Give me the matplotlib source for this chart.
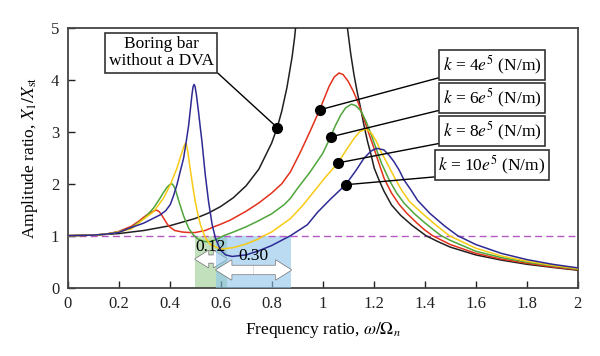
import matplotlib
matplotlib.use("Agg")
from matplotlib import pyplot as plt

plt.rcParams['font.family'] = ['Liberation Serif', 'DejaVu Serif']
plt.rcParams['mathtext.fontset'] = 'stix'

# boring bar without DVA (two branches around resonance)
black_lo_x = [0, 0.1, 0.2, 0.3, 0.4, 0.5, 0.55, 0.6, 0.65, 0.7, 0.75, 0.8, 0.822, 0.84, 0.86, 0.88, 0.89, 0.90]
black_lo_y = [1.0, 1.01, 1.04, 1.10, 1.19, 1.33, 1.43, 1.56, 1.73, 1.96, 2.28, 2.78, 3.08, 3.40, 3.85, 4.43, 4.81, 5.3]
black_hi_x = [1.09, 1.097, 1.11, 1.123, 1.136, 1.149, 1.162, 1.176, 1.19, 1.202, 1.221, 1.24, 1.27, 1.306, 1.35, 1.405,
              1.45, 1.5, 1.6, 1.7, 1.8, 1.9, 2.0]
black_hi_y = [5.4, 5.0, 4.5, 4.09, 3.75, 3.45, 3.12, 2.81, 2.55, 2.30, 2.07, 1.86, 1.59, 1.39, 1.20, 1.0,
              0.89, 0.78, 0.63, 0.53, 0.45, 0.39, 0.335]

red_x = [0, 0.1, 0.15, 0.2, 0.25, 0.28, 0.3, 0.32, 0.34, 0.35, 0.36, 0.37, 0.38, 0.39, 0.40, 0.42, 0.45, 0.48, 0.5,
         0.54, 0.573, 0.6, 0.638, 0.7, 0.75, 0.8, 0.84, 0.874, 0.914, 0.95, 0.988, 1.025, 1.045, 1.064, 1.08, 1.10,
         1.12, 1.14, 1.16, 1.18, 1.20, 1.22, 1.241, 1.27, 1.30, 1.33, 1.37, 1.40, 1.431, 1.5, 1.6, 1.7, 1.8, 1.9, 2.0]
red_y = [1.0, 1.01, 1.03, 1.08, 1.18, 1.28, 1.36, 1.43, 1.48, 1.49, 1.46, 1.39, 1.31, 1.23, 1.17, 1.10, 1.07, 1.06, 1.06,
         1.10, 1.17, 1.22, 1.30, 1.47, 1.63, 1.82, 2.0, 2.23, 2.62, 3.0, 3.42, 3.87, 4.05, 4.13, 4.10, 3.97,
         3.78, 3.55, 3.27, 2.98, 2.70, 2.40, 2.10, 1.82, 1.60, 1.43, 1.24, 1.11, 1.0, 0.83, 0.66, 0.55, 0.47, 0.40, 0.345]

green_x = [0, 0.1, 0.15, 0.2, 0.25, 0.3, 0.337, 0.36, 0.376, 0.39, 0.40, 0.409, 0.416, 0.424, 0.436, 0.455, 0.475,
           0.494, 0.51, 0.534, 0.555, 0.58, 0.612, 0.65, 0.7, 0.75, 0.8, 0.85, 0.874, 0.9, 0.95, 1.0, 1.031, 1.05,
           1.071, 1.09, 1.113, 1.13, 1.15, 1.17, 1.19, 1.21, 1.23, 1.261, 1.29, 1.32, 1.36, 1.40, 1.43, 1.464, 1.5,
           1.6, 1.7, 1.8, 1.9, 2.0]
green_y = [1.0, 1.01, 1.03, 1.07, 1.15, 1.33, 1.53, 1.70, 1.83, 1.93, 1.98, 2.0, 1.96, 1.87, 1.67, 1.38, 1.14,
           1.01, 0.94, 0.89, 0.88, 0.92, 1.0, 1.07, 1.17, 1.29, 1.42, 1.60, 1.72, 1.90, 2.22, 2.58, 2.90, 3.12,
           3.32, 3.46, 3.53, 3.50, 3.40, 3.20, 2.95, 2.67, 2.40, 2.07, 1.82, 1.62, 1.42, 1.25, 1.13, 1.0, 0.91,
           0.70, 0.58, 0.49, 0.42, 0.355]

yellow_x = [0, 0.1, 0.15, 0.2, 0.25, 0.285, 0.337, 0.376, 0.403, 0.429, 0.445, 0.455, 0.462, 0.467, 0.472, 0.481,
            0.491, 0.501, 0.511, 0.521, 0.54, 0.56, 0.6, 0.65, 0.7, 0.75, 0.77, 0.8, 0.874, 0.92, 0.966, 1.01, 1.06,
            1.09, 1.123, 1.145, 1.169, 1.19, 1.21, 1.23, 1.25, 1.27, 1.287, 1.31, 1.34, 1.39, 1.44, 1.496, 1.6,
            1.7, 1.8, 1.9, 2.0]
yellow_y = [1.0, 1.01, 1.03, 1.07, 1.13, 1.27, 1.46, 1.72, 1.98, 2.30, 2.55, 2.70, 2.78, 2.74, 2.60, 2.28,
            1.95, 1.65, 1.41, 1.21, 0.96, 0.83, 0.74, 0.77, 0.84, 0.94, 1.0, 1.07, 1.33, 1.57, 1.85, 2.12, 2.40,
            2.63, 2.87, 3.0, 3.05, 2.98, 2.82, 2.60, 2.42, 2.23, 2.07, 1.87, 1.66, 1.43, 1.22, 1.0, 0.76,
            0.61, 0.51, 0.43, 0.365]

blue_x = [0, 0.1, 0.15, 0.2, 0.246, 0.298, 0.363, 0.385, 0.403, 0.415, 0.429, 0.44, 0.455, 0.465, 0.475, 0.482,
          0.488, 0.492, 0.496, 0.500, 0.505, 0.510, 0.514, 0.52, 0.527, 0.54, 0.553, 0.567, 0.58, 0.6, 0.62, 0.645,
          0.7, 0.75, 0.8, 0.874, 0.94, 0.98, 1.03, 1.09, 1.13, 1.162, 1.19, 1.212, 1.24, 1.26, 1.28, 1.30, 1.319,
          1.346, 1.372, 1.42, 1.477, 1.529, 1.6, 1.7, 1.8, 1.9, 2.0]
blue_y = [1.0, 1.01, 1.03, 1.06, 1.15, 1.24, 1.40, 1.48, 1.60, 1.76, 1.98, 2.2, 2.49, 2.8, 3.13, 3.45,
          3.72, 3.86, 3.91, 3.87, 3.72, 3.52, 3.36, 3.10, 2.81, 2.17, 1.65, 1.21, 0.95, 0.72, 0.63, 0.60,
          0.63, 0.71, 0.81, 1.0, 1.21, 1.45, 1.70, 1.98, 2.25, 2.49, 2.63, 2.68, 2.65, 2.55, 2.42, 2.26, 2.07,
          1.88, 1.68, 1.43, 1.19, 1.0, 0.83, 0.66, 0.54, 0.45, 0.38]

labels = [r"$k$ = 4$e^5$ (N/m)", r"$k$ = 6$e^5$ (N/m)", r"$k$ = 8$e^5$ (N/m)", r"$k$ = 10$e^5$ (N/m)"]
dot_x = [0.988, 1.031, 1.06, 1.09]
dot_y = [3.42, 2.90, 2.40, 1.98]
label_y = [4.28, 3.65, 3.01, 2.36]
label_x = 1.663

span_green = (0.50, 0.625)
span_blue = (0.582, 0.877)

fig = plt.figure(figsize=(6, 3.56), dpi=100)
ax = fig.add_axes([0.1125, 0.192, 0.8505, 0.73])

ax.fill_between(span_green, 0, 1, color='#a9d3a0', alpha=0.7, lw=0, zorder=1)


# double arrows built from two single-headed halves
def double_arrow(x0, x1, y, hw, z):
    mid = (x0 + x1) / 2
    style = f"simple,head_length={hw*0.8},head_width={hw},tail_width={hw*0.45}"
    for end in (x0, x1):
        ax.annotate("", xy=(end, y), xytext=(mid, y),
                    arrowprops=dict(arrowstyle=style, fc='white', ec='#707070', lw=1.0,
                                    shrinkA=0, shrinkB=0), zorder=z)
    for end in (x0, x1):
        ax.annotate("", xy=(end, y), xytext=(mid, y),
                    arrowprops=dict(arrowstyle=style, fc='white', ec='none', lw=0,
                                    shrinkA=0, shrinkB=0), zorder=z)


double_arrow(span_green[0], span_green[1], 0.55, 1.2, 2)
ax.fill_between(span_blue, 0, 1, color='#8cc4ea', alpha=0.6, lw=0, zorder=3)
double_arrow(span_blue[0], span_blue[1], 0.34, 1.4, 4)

ax.text(0.56, 0.79, "0.12", fontsize=12.5, ha='center', va='center', zorder=7)
ax.text(0.73, 0.60, "0.30", fontsize=12.5, ha='center', va='center', zorder=7)

ax.axhline(1, color='#b658c4', lw=1.0, dashes=(5, 3), zorder=4.5)

lw = 1.1
ax.plot(black_lo_x, black_lo_y, color='#231f20', lw=lw, zorder=5)
ax.plot(black_hi_x, black_hi_y, color='#231f20', lw=lw, zorder=5)
ax.plot(red_x, red_y, color='#e3311c', lw=lw, zorder=5)
ax.plot(green_x, green_y, color='#4ea53a', lw=lw, zorder=5)
ax.plot(yellow_x, yellow_y, color='#f7cb15', lw=lw, zorder=5)
ax.plot(blue_x, blue_y, color='#2e2a94', lw=lw, zorder=5)

box = dict(boxstyle='square,pad=0.2', fc='white', ec='#333333', lw=1.2)
ax.annotate("Boring bar\nwithout a DVA", xy=(0.822, 3.08), xytext=(0.367, 4.52),
            fontsize=12.5, ha='center', va='center', linespacing=1.1, bbox=box,
            arrowprops=dict(arrowstyle='-', color='black', lw=1.0, relpos=(1, 0),
                            shrinkA=0, shrinkB=0), zorder=8)
ax.plot([0.822], [3.08], 'o', color='black', ms=7, zorder=9)

for lab, dx, dy, ly in zip(labels, dot_x, dot_y, label_y):
    ax.annotate(lab, xy=(dx, dy), xytext=(label_x, ly), fontsize=12.5, ha='center', va='center',
                bbox=box, arrowprops=dict(arrowstyle='-', color='black', lw=1.0, relpos=(0, 0),
                                          shrinkA=0, shrinkB=0), zorder=8)
ax.plot(dot_x, dot_y, 'o', color='black', ms=7, zorder=9)

ax.set_xlim(0, 2)
ax.set_ylim(0, 5)
xt = [0, 0.2, 0.4, 0.6, 0.8, 1, 1.2, 1.4, 1.6, 1.8, 2]
ax.set_xticks(xt)
ax.set_xticklabels([f"{v:g}" for v in xt])
ax.set_yticks(range(6))
ax.tick_params(direction='in', length=5, width=1.0, labelsize=12, colors='#222222', pad=6)
for s in ax.spines.values():
    s.set_color('#444444')
    s.set_linewidth(1.3)

ax.set_xlabel(r"Frequency ratio, $\omega/\Omega_n$", fontsize=12.5, labelpad=6)
ax.set_ylabel(r"Amplitude ratio, $X_1/X_{\mathrm{st}}$", fontsize=12.5, labelpad=8)

fig.savefig("out.png", dpi=100)
